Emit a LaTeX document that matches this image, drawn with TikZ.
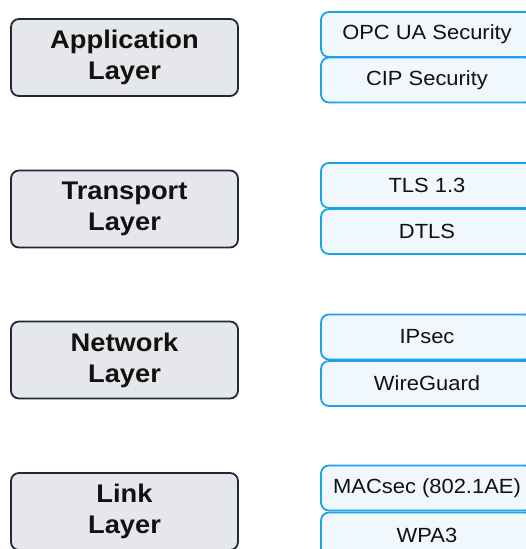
\documentclass[tikz,border=0pt]{standalone}
\usepackage{fontspec}
\setmainfont{Liberation Sans}[FakeStretch=1.07]
\definecolor{layerfill}{HTML}{E5E7EB}
\definecolor{layerline}{HTML}{1F2937}
\definecolor{protofill}{HTML}{F0F8FE}
\definecolor{protoline}{HTML}{1AA3E6}
\definecolor{ink}{HTML}{111111}
\tikzset{
  layerbox/.style={draw=layerline, fill=layerfill, line width=1.8pt, rounded corners=8pt,
    minimum width=227pt, minimum height=77pt, inner sep=0pt, align=center,
    text=ink, font=\fontsize{25.5}{31}\selectfont\bfseries},
  protobox/.style={draw=protoline, fill=protofill, line width=1.8pt, rounded corners=8pt,
    minimum width=212pt, minimum height=45pt, inner sep=0pt,
    text=ink, font=\fontsize{20.5}{24}\selectfont},
}
\begin{document}
\begin{tikzpicture}[x=1pt,y=-1pt]
  \useasboundingbox (0,0) rectangle (526,549);
  \clip (0,0) rectangle (526,549);
  % protocol stack layers
  \node[layerbox] (app)  at (124.5,57.5) {Application\\Layer};
  \node[layerbox] (trn)  at (124.5,209)  {Transport\\Layer};
  \node[layerbox] (net)  at (124.5,360)  {Network\\Layer};
  \node[layerbox] (lnk)  at (124.5,511.5){Link\\Layer};
  % security protocols per layer
  \node[protobox] (opc)  at (427,34.5)  {OPC UA Security};
  \node[protobox] (cip)  at (427,80)    {CIP Security};
  \node[protobox] (tls)  at (427,185.5) {TLS 1.3};
  \node[protobox] (dtls) at (427,231.5) {DTLS};
  \node[protobox] (ips)  at (427,337)   {IPsec};
  \node[protobox] (wg)   at (427,383.5) {WireGuard};
  \node[protobox] (mac)  at (427,488)   {MACsec (802.1AE)};
  \node[protobox] (wpa)  at (427,535)   {WPA3};
\end{tikzpicture}
\end{document}
